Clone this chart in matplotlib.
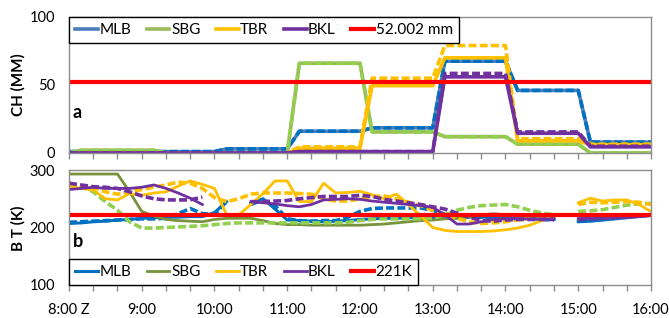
import matplotlib.pyplot as plt
import numpy as np

nan = np.nan

# Horas: 8:00 Z a 16:00, un dato cada 10 min (49 datos)
minutes = np.arange(0, 490, 10)
hours = 8 + minutes / 60
hour_labels = ["8:00 Z", "9:00", "10:00", "11:00", "12:00", "13:00", "14:00", "15:00", "16:00"]

# Panel a: CH (mm)
mlb_ch = [1, 1, 1, 1, 1, 1, 1, 1, 1, 1, 1, 1, 1,
          3, 3, 3, 3, 3, 3, 16, 16, 16, 16, 16, 16,
          18.5, 18.5, 18.5, 18.5, 18.5, 18.5, 67.5, 67.5, 67.5, 67.5, 67.5, 67.5,
          46, 46, 46, 46, 46, 46, 8, 8, 8, 8, 8, 8]
sbg_ch = [0, 2, 2, 2, 2, 2, 2, 2, 0, 0, 0, 0, 0,
          0, 0, 0, 0, 0, 0, 66, 66, 66, 66, 66, 66,
          15.5, 15.5, 15.5, 15.5, 15.5, 15.5, 12, 12, 12, 12, 12, 12,
          6.5, 6.5, 6.5, 6.5, 6.5, 6.5, 0, 0, 0, 0, 0, 0]
tbr_ch = [0, 0, 0, 0, 0, 0, 0, 0, 0, 0, 0, 0, 0,
          0, 0, 0, 0, 0, 0, 3.5, 3.5, 3.5, 3.5, 3.5, 3.5,
          49.5, 49.5, 49.5, 49.5, 49.5, 49.5, 70, 70, 70, 70, 70, 70,
          9, 9, 9, 9, 9, 9, 6, 6, 6, 6, 6, 6]
tbr_ch_est = [0, 0, 0, 0, 0, 0, 0, 0, 0, 0, 0, 0, 0,
              0, 0, 0, 0, 0, 0, 4.5, 4.5, 4.5, 4.5, 4.5, 4.5,
              55, 55, 55, 55, 55, 55, 79, 79, 79, 79, 79, 79,
              10.5, 10.5, 10.5, 10.5, 10.5, 10.5, 6.5, 6.5, 6.5, 6.5, 6.5, 6.5]
bkl_ch = [0, 0, 0, 0, 0, 0, 0, 0, 0, 0, 0, 0, 0,
          0, 0, 0, 0, 0, 0, 1, 1, 1, 1, 1, 1,
          1, 1, 1, 1, 1, 1, 56, 56, 56, 56, 56, 56,
          14.5, 14.5, 14.5, 14.5, 14.5, 14.5, 4.5, 4.5, 4.5, 4.5, 4.5, 4.5]
bkl_ch_est = [0, 0, 0, 0, 0, 0, 0, 0, 0, 0, 0, 0, 0,
              0, 0, 0, 0, 0, 0, 1, 1, 1, 1, 1, 1,
              1, 1, 1, 1, 1, 1, 58.5, 58.5, 58.5, 58.5, 58.5, 58.5,
              15.5, 15.5, 15.5, 15.5, 15.5, 15.5, 5, 5, 5, 5, 5, 5]
ch_umbral = 52.002

# Panel b: BT (K)
mlb_bt = [207, 208, 210, 211, 213, 214, 216, 217, 218, 218, 219, 219, 226,
          245, nan, 242, 250, 232, 213, 212, 211, 210, 211, 212,
          214, 215, 216, 216, 217, 217, 217, 217, 217, 218, 218, 218,
          217, 217, 216, 215, 214, nan, 210, 211, 213, 215, 217, 219, 221]
mlb_bt_est = [209, 210, 211, 212, 213, 214, 215, 215, 216, 224, 233, 224, 223,
              245, nan, 240, 248, 238, 215, 212, 211, 212, 212, 218,
              228, 233, 234, 234, 234, 234, 230, 223, 220, 219, 218, 218,
              217, 217, 216, 214, 213, nan, 211, 212, 214, 216, 218, 220, 222]
sbg_bt = [293, 293, 293, 293, 293, 262, 228, 220, 214, 212, 211, 210, 214,
          216, 216, 216, 212, 207, 205, 205, 204, 204, 204, 204,
          204, 205, 206, 208, 210, 212, 213, 215, 216, 218, 222, 224,
          222, 220, 219, 218, 218, nan, 215, 216, 218, 220, 221, 222, 223]
sbg_bt_est = [277, 272, 262, 245, 230, 210, 199, 199, 200, 201, 202, 203, 205,
              207, 208, 208, 208, 208, 208, 208, 208, 208, 208, 209,
              212, 214, 215, 215, 215, 215, 216, 222, 230, 235, 238, 239,
              240, 236, 230, 225, 222, nan, 228, 229, 231, 235, 239, 241, 242]
tbr_bt = [271, 268, 265, 250, 248, 259, 256, 260, 262, 272, 281, 275, 268,
          222, 222, 240, 259, 281, 281, 245, 245, 277, 260, 261,
          263, 257, 250, 258, 240, 220, 200, 195, 193, 193, 193, 194,
          196, 199, 204, 212, 222, nan, 243, 251, 246, 248, 248, 240, 228]
tbr_bt_est = [274, 271, 270, 262, 258, 262, 266, 270, 274, 279, 277, 268, 252,
              245, 250, 258, 260, 260, 260, 259, 258, 250, 246, 246,
              250, 254, 255, 250, 244, 238, 230, 222, 216, 210, 207, 208,
              210, 213, 216, 219, 221, nan, 240, 244, 243, 244, 245, 244, 240]
bkl_bt = [266, 268, 270, 268, 268, 268, 270, 274, 268, 260, 251, 240, nan,
          nan, nan, 245, 243, 241, 238, 236, 240, 248, 249, 250,
          249, 246, 244, 242, 240, 238, 235, 222, 206, 206, 210, 214,
          215, 215, 215, 215, 215, nan, 215, 216, 216, 217, 218, 219, 221]
bkl_bt_est = [277, 274, 271, 270, 268, 262, 255, 250, 248, 248, 248, 253, nan,
              nan, nan, 245, 245, 246, 247, 250, 252, 254, 254, 254,
              256, 254, 249, 246, 243, 240, 236, 232, 225, 218, 212, 211,
              213, 214, 214, 214, 214, nan, 214, 215, 216, 217, 218, 220, 222]
bt_umbral = 221

plt.rcParams['font.family'] = ['Lato', 'DejaVu Sans']
gris = "#8c8c8c"

fig = plt.figure(figsize=(6.69, 3.18), dpi=100)
ax1 = fig.add_axes([0.1031, 0.5189, 0.8700, 0.4277])
ax2 = fig.add_axes([0.1031, 0.1038, 0.8700, 0.3616])

dash = (2.2, 0.9)

# --- panel a ---
ax1.plot(hours, mlb_ch, color="#4a7ebb", lw=2.6, label="MLB")
ax1.plot(hours, mlb_ch, color="#0070c0", lw=2.6, dashes=dash)
ax1.plot(hours, sbg_ch, color="#9bbb59", lw=2.6, label="SBG")
ax1.plot(hours, sbg_ch, color="#92d050", lw=2.6, dashes=dash)
ax1.plot(hours, tbr_ch, color="#ffc000", lw=2.6, label="TBR")
ax1.plot(hours, tbr_ch_est, color="#ffc000", lw=2.6, dashes=dash)
ax1.plot(hours, bkl_ch, color="#7030a0", lw=2.6, label="BKL")
ax1.plot(hours, bkl_ch_est, color="#7030a0", lw=2.6, dashes=dash)
ax1.axhline(ch_umbral, color="#ff0000", lw=3, label="52.002 mm")
ax1.set_ylim(0, 100)
ax1.set_yticks([0, 50, 100])
ax1.text(8.05, 30, "a", fontsize=13, fontweight="bold", va="center")

# --- panel b ---
ax2.plot(hours, mlb_bt, color="#0070c0", lw=2.2, label="MLB")
ax2.plot(hours, mlb_bt_est, color="#0070c0", lw=2.6, dashes=dash)
ax2.plot(hours, sbg_bt, color="#77933c", lw=2.0, label="SBG")
ax2.plot(hours, sbg_bt_est, color="#92d050", lw=2.6, dashes=dash)
ax2.plot(hours, tbr_bt, color="#ffc000", lw=2.0, label="TBR")
ax2.plot(hours, tbr_bt_est, color="#ffc000", lw=2.6, dashes=dash)
ax2.plot(hours, bkl_bt, color="#7030a0", lw=2.0, label="BKL")
ax2.plot(hours, bkl_bt_est, color="#7030a0", lw=2.6, dashes=dash)
ax2.axhline(bt_umbral, color="#ff0000", lw=3, label="221K")
ax2.set_ylim(100, 300)
ax2.set_yticks([100, 200, 300])
ax2.text(8.05, 175, "b", fontsize=13, fontweight="bold", va="center")

# marcas cada 20 min, etiquetas solo en las horas
tick_min = np.arange(0, 490, 20)
ticks20 = tick_min / 60 + 8
labels20 = [hour_labels[m // 60] if m % 60 == 0 else "" for m in tick_min]
for ax in (ax1, ax2):
    ax.set_xlim(8, 16)
    ax.set_xticks(ticks20)
    ax.set_xticklabels([])
    for s in ax.spines.values():
        s.set_color(gris)
        s.set_linewidth(1)
    ax.tick_params(axis="x", direction="out", length=4, color=gris, width=1)
    ax.tick_params(axis="y", length=0, pad=10, labelsize=10.5)

ax2.set_xticklabels(labels20)
ax2.tick_params(axis="x", pad=9, labelsize=10.5)

leg_kw = dict(ncol=5, fontsize=11, frameon=True, fancybox=False, edgecolor="black",
              framealpha=1, handlelength=1.5, handletextpad=0.1, columnspacing=1.0,
              borderaxespad=0, borderpad=0.4)
leg1 = ax1.legend(loc="upper left", bbox_to_anchor=(0, 1), **leg_kw)
leg1.get_frame().set_linewidth(1)
leg2 = ax2.legend(loc="lower left", bbox_to_anchor=(0, 0), **leg_kw)
leg2.get_frame().set_linewidth(1)

fig.text(18 / 669, 1 - 85 / 318, "CH (MM)", rotation=90, ha="center", va="center",
         fontsize=11, fontweight="bold")
fig.text(18 / 669, 1 - 228 / 318, "B T (K)", rotation=90, ha="center", va="center",
         fontsize=11, fontweight="bold")

fig.savefig("out.png", dpi=100)
